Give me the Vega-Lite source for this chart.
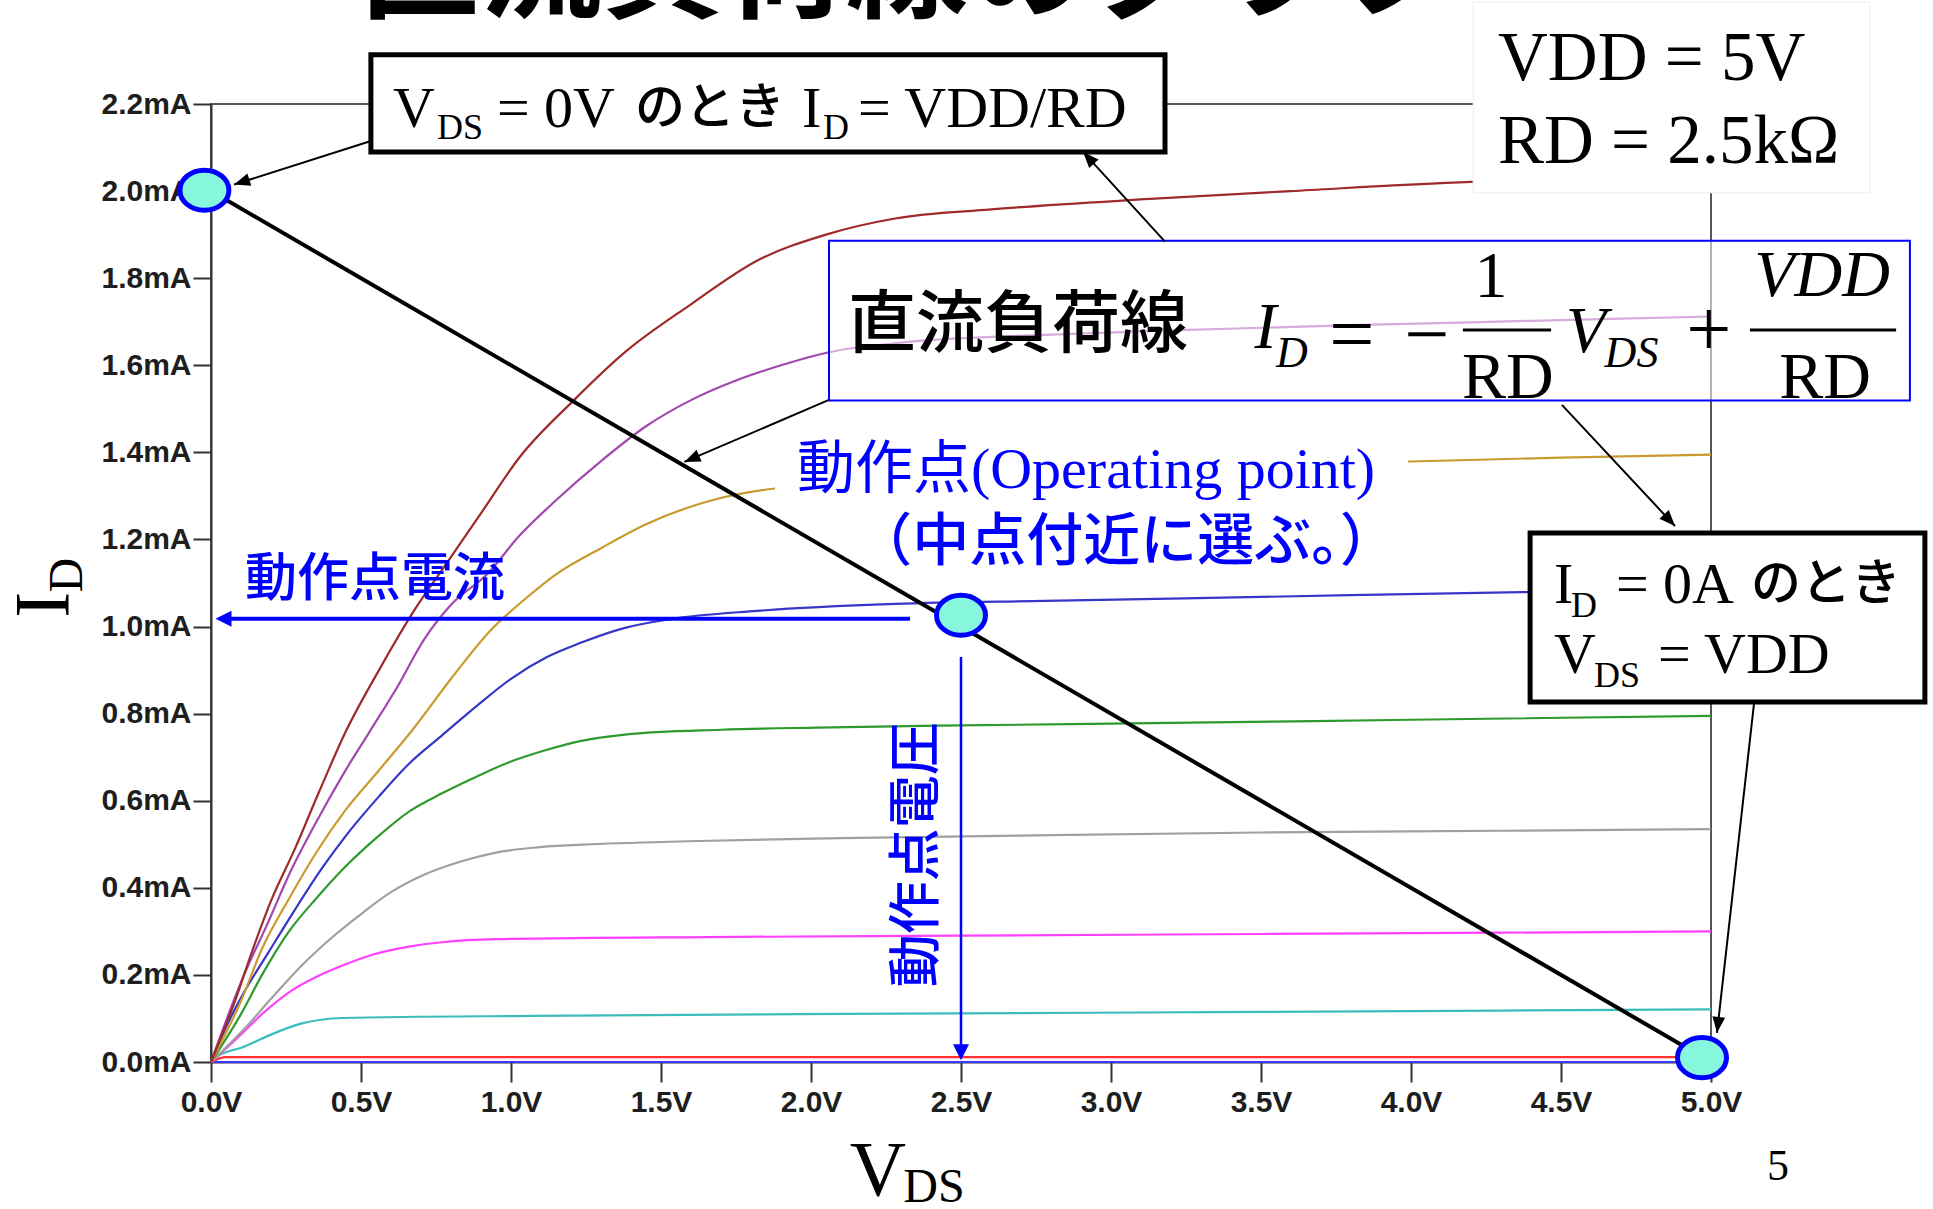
{
"$schema": "https://vega.github.io/schema/vega-lite/v6.json",
"width": 1500, "height": 958,
"autosize": {"type": "none"},
"padding": {"left": 211, "top": 104, "right": 222, "bottom": 147},
"background": "white",
"config": {"view": {"stroke": "#555555", "strokeWidth": 2}},
"encoding": {
 "x": {"field": "v", "type": "quantitative", "scale": {"domain": [0, 5], "nice": false, "zero": false},
  "axis": {"values": [0,0.5,1,1.5,2,2.5,3,3.5,4,4.5,5], "labelExpr": "format(datum.value,'.1f')+'V'", "title": null, "grid": false, "tickSize": 20, "tickWidth": 2, "tickColor": "#333333", "domainColor": "#333333", "domainWidth": 2, "labelFont": "Liberation Sans", "labelFontWeight": "bold", "labelFontSize": 30, "labelColor": "#1e1e1e", "labelPadding": 5, "labelFlush": false, "labelOverlap": false}},
 "y": {"field": "i", "type": "quantitative", "scale": {"domain": [0, 2.2], "nice": false, "zero": false},
  "axis": {"values": [0,0.2,0.4,0.6,0.8,1,1.2,1.4,1.6,1.8,2,2.2], "labelExpr": "format(datum.value,'.1f')+'mA'", "title": null, "grid": false, "tickSize": 18, "tickWidth": 2, "tickColor": "#333333", "domainColor": "#333333", "domainWidth": 2, "labelFont": "Liberation Sans", "labelFontWeight": "bold", "labelFontSize": 30, "labelColor": "#1e1e1e", "labelPadding": 2, "labelOverlap": false}}
},
"layer": [
 {"data": {"values": [
  {"s":"c0","v":0,"i":0},{"s":"c0","v":5,"i":0},
  {"s":"c1","v":0,"i":0},{"s":"c1","v":0.05,"i":0.011},{"s":"c1","v":5,"i":0.011},
  {"s":"c2","v":0,"i":0},{"s":"c2","v":0.02,"i":0.012},{"s":"c2","v":0.11,"i":0.035},{"s":"c2","v":0.19,"i":0.06},{"s":"c2","v":0.3,"i":0.088},{"s":"c2","v":0.44,"i":0.101},{"s":"c2","v":1.07,"i":0.106},{"s":"c2","v":2.28,"i":0.111},{"s":"c2","v":3.5,"i":0.115},{"s":"c2","v":4.3,"i":0.118},{"s":"c2","v":5,"i":0.121},
  {"s":"c3","v":0,"i":0},{"s":"c3","v":0.08,"i":0.05},{"s":"c3","v":0.17,"i":0.11},{"s":"c3","v":0.26,"i":0.16},{"s":"c3","v":0.35,"i":0.195},{"s":"c3","v":0.44,"i":0.222},{"s":"c3","v":0.54,"i":0.247},{"s":"c3","v":0.66,"i":0.265},{"s":"c3","v":0.77,"i":0.275},{"s":"c3","v":0.95,"i":0.282},{"s":"c3","v":1.66,"i":0.287},{"s":"c3","v":2.5,"i":0.29},{"s":"c3","v":3.5,"i":0.294},{"s":"c3","v":4.3,"i":0.297},{"s":"c3","v":5,"i":0.3},
  {"s":"c4","v":0,"i":0},{"s":"c4","v":0.11,"i":0.075},{"s":"c4","v":0.2,"i":0.145},{"s":"c4","v":0.3,"i":0.22},{"s":"c4","v":0.41,"i":0.29},{"s":"c4","v":0.51,"i":0.345},{"s":"c4","v":0.6,"i":0.39},{"s":"c4","v":0.71,"i":0.43},{"s":"c4","v":0.83,"i":0.46},{"s":"c4","v":0.95,"i":0.481},{"s":"c4","v":1.09,"i":0.493},{"s":"c4","v":1.24,"i":0.499},{"s":"c4","v":1.59,"i":0.507},{"s":"c4","v":2.1,"i":0.514},{"s":"c4","v":2.7,"i":0.52},{"s":"c4","v":3.5,"i":0.527},{"s":"c4","v":4.3,"i":0.531},{"s":"c4","v":5,"i":0.535},
  {"s":"c5","v":0,"i":0},{"s":"c5","v":0.1,"i":0.11},{"s":"c5","v":0.17,"i":0.2},{"s":"c5","v":0.26,"i":0.3},{"s":"c5","v":0.35,"i":0.375},{"s":"c5","v":0.45,"i":0.45},{"s":"c5","v":0.56,"i":0.52},{"s":"c5","v":0.66,"i":0.575},{"s":"c5","v":0.77,"i":0.617},{"s":"c5","v":0.89,"i":0.657},{"s":"c5","v":1,"i":0.69},{"s":"c5","v":1.12,"i":0.717},{"s":"c5","v":1.23,"i":0.737},{"s":"c5","v":1.38,"i":0.752},{"s":"c5","v":1.7,"i":0.763},{"s":"c5","v":2.02,"i":0.768},{"s":"c5","v":2.5,"i":0.773},{"s":"c5","v":3.13,"i":0.778},{"s":"c5","v":4,"i":0.786},{"s":"c5","v":5,"i":0.795},
  {"s":"c6","v":0,"i":0},{"s":"c6","v":0.05,"i":0.08},{"s":"c6","v":0.11,"i":0.16},{"s":"c6","v":0.19,"i":0.25},{"s":"c6","v":0.28,"i":0.35},{"s":"c6","v":0.37,"i":0.445},{"s":"c6","v":0.45,"i":0.52},{"s":"c6","v":0.56,"i":0.61},{"s":"c6","v":0.66,"i":0.685},{"s":"c6","v":0.77,"i":0.75},{"s":"c6","v":0.89,"i":0.82},{"s":"c6","v":1,"i":0.88},{"s":"c6","v":1.12,"i":0.93},{"s":"c6","v":1.23,"i":0.962},{"s":"c6","v":1.38,"i":0.997},{"s":"c6","v":1.53,"i":1.017},{"s":"c6","v":1.82,"i":1.036},{"s":"c6","v":2.28,"i":1.052},{"s":"c6","v":2.78,"i":1.059},{"s":"c6","v":3.5,"i":1.068},{"s":"c6","v":4.37,"i":1.079},{"s":"c6","v":5,"i":1.084},
  {"s":"c7","v":0,"i":0},{"s":"c7","v":0.1,"i":0.14},{"s":"c7","v":0.17,"i":0.26},{"s":"c7","v":0.26,"i":0.375},{"s":"c7","v":0.35,"i":0.48},{"s":"c7","v":0.45,"i":0.58},{"s":"c7","v":0.56,"i":0.67},{"s":"c7","v":0.68,"i":0.77},{"s":"c7","v":0.8,"i":0.88},{"s":"c7","v":0.93,"i":0.99},{"s":"c7","v":1.05,"i":1.065},{"s":"c7","v":1.15,"i":1.12},{"s":"c7","v":1.3,"i":1.18},{"s":"c7","v":1.45,"i":1.235},{"s":"c7","v":1.67,"i":1.29},{"s":"c7","v":1.88,"i":1.317},{"s":"c7","v":2.3,"i":1.335},{"s":"c7","v":3,"i":1.354},{"s":"c7","v":3.5,"i":1.367},{"s":"c7","v":4,"i":1.379},{"s":"c7","v":4.5,"i":1.388},{"s":"c7","v":5,"i":1.395},
  {"s":"c8","v":0,"i":0},{"s":"c8","v":0.11,"i":0.2},{"s":"c8","v":0.19,"i":0.32},{"s":"c8","v":0.26,"i":0.43},{"s":"c8","v":0.35,"i":0.55},{"s":"c8","v":0.44,"i":0.66},{"s":"c8","v":0.53,"i":0.76},{"s":"c8","v":0.62,"i":0.86},{"s":"c8","v":0.71,"i":0.97},{"s":"c8","v":0.8,"i":1.05},{"s":"c8","v":0.92,"i":1.12},{"s":"c8","v":1.03,"i":1.21},{"s":"c8","v":1.15,"i":1.29},{"s":"c8","v":1.3,"i":1.38},{"s":"c8","v":1.45,"i":1.46},{"s":"c8","v":1.6,"i":1.52},{"s":"c8","v":1.75,"i":1.565},{"s":"c8","v":1.9,"i":1.6},{"s":"c8","v":2.06,"i":1.63},{"s":"c8","v":2.3,"i":1.652},{"s":"c8","v":2.78,"i":1.67},{"s":"c8","v":3.2,"i":1.68},{"s":"c8","v":3.8,"i":1.692},{"s":"c8","v":4.4,"i":1.702},{"s":"c8","v":5,"i":1.712},
  {"s":"c9","v":0,"i":0},{"s":"c9","v":0.08,"i":0.14},{"s":"c9","v":0.14,"i":0.26},{"s":"c9","v":0.2,"i":0.37},{"s":"c9","v":0.28,"i":0.49},{"s":"c9","v":0.36,"i":0.62},{"s":"c9","v":0.45,"i":0.76},{"s":"c9","v":0.56,"i":0.9},{"s":"c9","v":0.68,"i":1.04},{"s":"c9","v":0.78,"i":1.14},{"s":"c9","v":0.89,"i":1.25},{"s":"c9","v":1.03,"i":1.39},{"s":"c9","v":1.21,"i":1.52},{"s":"c9","v":1.38,"i":1.63},{"s":"c9","v":1.6,"i":1.74},{"s":"c9","v":1.82,"i":1.84},{"s":"c9","v":2.05,"i":1.9},{"s":"c9","v":2.28,"i":1.937},{"s":"c9","v":2.6,"i":1.958},{"s":"c9","v":3.13,"i":1.982},{"s":"c9","v":3.6,"i":2.0},{"s":"c9","v":4.2,"i":2.021},{"s":"c9","v":4.6,"i":2.028},{"s":"c9","v":5,"i":2.035}
 ]},
 "mark": {"type": "line", "strokeWidth": 2.2, "interpolate": "monotone"},
 "encoding": {"color": {"field": "s", "type": "nominal", "legend": null,
   "scale": {"domain": ["c0","c1","c2","c3","c4","c5","c6","c7","c8","c9"], "range": ["#3a3aff","#ff3030","#3cbcbc","#ff40ff","#a0a0a0","#2e9a2e","#3636c8","#c99a2e","#a347b0","#9e2a2a"]}}}},
 {"data": {"values": [{"v": 1.88, "v2": 3.99, "i": 1.13, "i2": 1.5}]},
  "mark": {"type": "rect", "fill": "white"},
  "encoding": {"x2": {"field": "v2"}, "y2": {"field": "i2"}}},
 {"data": {"values": [{"v": 0, "i": 2, "v2": 5, "i2": 0}]},
  "mark": {"type": "rule", "color": "black", "strokeWidth": 4},
  "encoding": {"x2": {"field": "v2"}, "y2": {"field": "i2"}}},
 {"data": {"values": [{"v": 2.06, "v2": 5.663, "i": 1.519, "i2": 1.886}]},
  "mark": {"type": "rect", "fill": "white", "fillOpacity": 0.55, "stroke": "#0000ff", "strokeWidth": 2},
  "encoding": {"x2": {"field": "v2"}, "y2": {"field": "i2"}}},
 {"data": {"values": [{"v": 0.533, "v2": 3.18, "i": 2.09, "i2": 2.313}, {"v": 4.397, "v2": 5.713, "i": 0.827, "i2": 1.215}]},
  "mark": {"type": "rect", "fill": "white", "stroke": "black", "strokeWidth": 5},
  "encoding": {"x2": {"field": "v2"}, "y2": {"field": "i2"}}},
 {"data": {"values": [{"v": 4.207, "v2": 5.53, "i": 1.996, "i2": 2.434}]},
  "mark": {"type": "rect", "fill": "white", "stroke": "#eeeeee", "strokeWidth": 1},
  "encoding": {"x2": {"field": "v2"}, "y2": {"field": "i2"}}},
 {"data": {"values": [{"v": -0.022, "i": 2.002}, {"v": 2.5, "i": 1.026}, {"v": 4.97, "i": 0.01}]},
  "mark": {"type": "point", "shape": "M -1 0 A 1 0.82 0 1 1 1 0 A 1 0.82 0 1 1 -1 0 Z", "size": 2401, "filled": false, "fill": "#86f7dc", "fillOpacity": 1, "stroke": "#0000ff", "strokeWidth": 5, "opacity": 1}},
 {"data": {"values": [
   {"v": 0.533, "i": 2.115, "v2": 0.077, "i2": 2.015},
   {"v": 3.18, "i": 1.884, "v2": 2.907, "i2": 2.09},
   {"v": 2.058, "i": 1.52, "v2": 1.578, "i2": 1.378},
   {"v": 4.503, "i": 1.509, "v2": 4.88, "i2": 1.231},
   {"v": 5.144, "i": 0.827, "v2": 5.02, "i2": 0.067}]},
  "layer": [
   {"mark": {"type": "rule", "color": "black", "strokeWidth": 2},
    "encoding": {"x2": {"field": "v2"}, "y2": {"field": "i2"}}},
   {"transform": [{"calculate": "atan2((datum.v2-datum.v)*300,(datum.i2-datum.i)*435.45)*180/PI", "as": "ang"}],
    "mark": {"type": "point", "shape": "M 0 0 L 0.4 1 L -0.4 1 Z", "size": 1024, "filled": true, "color": "black", "opacity": 1},
    "encoding": {"x": {"field": "v2", "type": "quantitative", "scale": {"domain": [0, 5], "nice": false, "zero": false}},
     "y": {"field": "i2", "type": "quantitative", "scale": {"domain": [0, 2.2], "nice": false, "zero": false}},
     "angle": {"field": "ang", "type": "quantitative", "scale": null}}}
  ]},
 {"data": {"values": [{"v": 2.33, "i": 1.018, "v2": 0.03, "i2": 1.018}]},
  "mark": {"type": "rule", "color": "#0000ff", "strokeWidth": 4},
  "encoding": {"x2": {"field": "v2"}, "y2": {"field": "i2"}}},
 {"data": {"values": [{"v": 2.5, "i": 0.93, "v2": 2.5, "i2": 0.03}]},
  "mark": {"type": "rule", "color": "#0000ff", "strokeWidth": 2.5},
  "encoding": {"x2": {"field": "v2"}, "y2": {"field": "i2"}}},
 {"data": {"values": [{"v": 2.33, "i": 1.018, "v2": 0.015, "i2": 1.018}, {"v": 2.5, "i": 0.93, "v2": 2.5, "i2": 0.004}]},
  "transform": [{"calculate": "atan2((datum.v2-datum.v)*300,(datum.i2-datum.i)*435.45)*180/PI", "as": "ang"}],
  "mark": {"type": "point", "shape": "M 0 0 L 0.5 1 L -0.5 1 Z", "size": 1024, "filled": true, "color": "#0000ff", "opacity": 1},
  "encoding": {"x": {"field": "v2", "type": "quantitative", "scale": {"domain": [0, 5], "nice": false, "zero": false}},
   "y": {"field": "i2", "type": "quantitative", "scale": {"domain": [0, 2.2], "nice": false, "zero": false}},
   "angle": {"field": "ang", "type": "quantitative", "scale": null}}},
 {"data": {"values": [{"v": 4.173, "v2": 4.467, "i": 1.681}, {"v": 5.13, "v2": 5.617, "i": 1.681}]},
  "mark": {"type": "rule", "color": "black", "strokeWidth": 3},
  "encoding": {"x2": {"field": "v2"}}},
 {"data": {"values": [
   {"t": "V", "v": 0.607, "i": 2.147}, {"t": "= 0V", "v": 0.953, "i": 2.147}, {"t": "I", "v": 1.97, "i": 2.147}, {"t": "= VDD/RD", "v": 2.157, "i": 2.147},
   {"t": "I", "v": 4.477, "i": 1.054}, {"t": "= 0A", "v": 4.683, "i": 1.054}, {"t": "V", "v": 4.477, "i": 0.893}, {"t": "= VDD", "v": 4.823, "i": 0.893}]},
  "mark": {"type": "text", "font": "Liberation Serif", "fontSize": 58, "align": "left", "baseline": "alphabetic", "color": "black"},
  "encoding": {"text": {"field": "t"}}},
 {"data": {"values": [
   {"t": "DS", "v": 0.753, "i": 2.12}, {"t": "D", "v": 2.04, "i": 2.12}, {"t": "D", "v": 4.533, "i": 1.022}, {"t": "DS", "v": 4.61, "i": 0.861}]},
  "mark": {"type": "text", "font": "Liberation Serif", "fontSize": 36, "align": "left", "baseline": "alphabetic", "color": "black"},
  "encoding": {"text": {"field": "t"}}},
 {"data": {"values": [{"t": "のとき", "v": 1.413, "i": 2.154}, {"t": "のとき", "v": 5.133, "i": 1.061}]},
  "mark": {"type": "text", "font": "Noto Sans CJK JP", "fontSize": 50, "fontWeight": 500, "align": "left", "baseline": "alphabetic", "color": "black"},
  "encoding": {"text": {"field": "t"}}},
 {"data": {"values": [{"t": "VDD = 5V", "v": 4.29, "i": 2.255}, {"t": "RD = 2.5kΩ", "v": 4.29, "i": 2.065}]},
  "mark": {"type": "text", "font": "Liberation Serif", "fontSize": 69, "align": "left", "baseline": "alphabetic", "color": "black"},
  "encoding": {"text": {"field": "t"}}},
 {"data": {"values": [{"t": "直流負荷線", "v": 2.123, "i": 1.688}]},
  "mark": {"type": "text", "font": "Noto Sans CJK JP", "fontSize": 68, "fontWeight": 500, "align": "left", "baseline": "middle", "color": "black"},
  "encoding": {"text": {"field": "t"}}},
 {"data": {"values": [{"t": "I", "v": 3.515, "i": 1.686}, {"t": "V", "v": 4.583, "i": 1.676}, {"t": "VDD", "v": 5.37, "i": 1.805}]},
  "mark": {"type": "text", "font": "Liberation Serif", "fontStyle": "italic", "fontSize": 66, "align": "center", "baseline": "middle", "color": "black"},
  "encoding": {"text": {"field": "t"}}},
 {"data": {"values": [{"t": "D", "v": 3.603, "i": 1.626}, {"t": "DS", "v": 4.735, "i": 1.626}]},
  "mark": {"type": "text", "font": "Liberation Serif", "fontStyle": "italic", "fontSize": 44, "align": "center", "baseline": "middle", "color": "black"},
  "encoding": {"text": {"field": "t"}}},
 {"data": {"values": [{"t": "=", "v": 3.803, "i": 1.665}, {"t": "−", "v": 4.053, "i": 1.665}, {"t": "+", "v": 4.993, "i": 1.676}]},
  "mark": {"type": "text", "font": "Liberation Serif", "fontSize": 80, "align": "center", "baseline": "middle", "color": "black"},
  "encoding": {"text": {"field": "t"}}},
 {"data": {"values": [{"t": "1", "v": 4.267, "i": 1.803}, {"t": "RD", "v": 4.323, "i": 1.571}, {"t": "RD", "v": 5.38, "i": 1.571}]},
  "mark": {"type": "text", "font": "Liberation Serif", "fontSize": 66, "align": "center", "baseline": "middle", "color": "black"},
  "encoding": {"text": {"field": "t"}}},
 {"data": {"values": [{"t": "動作点電流", "v": 0.113, "i": 1.107}]},
  "mark": {"type": "text", "font": "Noto Sans CJK JP", "fontSize": 52, "fontWeight": 500, "align": "left", "baseline": "middle", "color": "#0000ff"},
  "encoding": {"text": {"field": "t"}}},
 {"data": {"values": [{"t": "動作点(Operating point)", "v": 1.953, "i": 1.318}]},
  "mark": {"type": "text", "font": "Liberation Serif, Noto Sans CJK JP", "fontSize": 58, "align": "left", "baseline": "alphabetic", "color": "#0000ff"},
  "encoding": {"text": {"field": "t"}}},
 {"data": {"values": [{"t": "（中点付近に選ぶ。）", "v": 3.05, "i": 1.192}]},
  "mark": {"type": "text", "font": "Noto Sans CJK JP", "fontSize": 57, "fontWeight": 500, "align": "center", "baseline": "middle", "color": "#0000ff"},
  "encoding": {"text": {"field": "t"}}},
 {"data": {"values": [{"t": "動作点電圧", "v": 2.357, "i": 0.476}]},
  "mark": {"type": "text", "font": "Noto Sans CJK JP", "fontSize": 53, "fontWeight": 500, "align": "center", "baseline": "middle", "angle": 270, "color": "#0000ff"},
  "encoding": {"text": {"field": "t"}}},
 {"data": {"values": [{"t": "直流負荷線のグラフ", "v": 2.32, "i": 2.42}]},
  "mark": {"type": "text", "font": "Noto Sans CJK JP", "fontWeight": "bold", "fontSize": 122, "align": "center", "baseline": "alphabetic", "color": "black"},
  "encoding": {"text": {"field": "t"}}},
 {"data": {"values": [{"t": "I", "v": -0.553, "i": 1.05}]},
  "mark": {"type": "text", "font": "Liberation Serif", "fontSize": 78, "align": "center", "baseline": "middle", "angle": 270, "color": "black"},
  "encoding": {"text": {"field": "t"}}},
 {"data": {"values": [{"t": "D", "v": -0.477, "i": 1.118}]},
  "mark": {"type": "text", "font": "Liberation Serif", "fontSize": 48, "align": "center", "baseline": "middle", "angle": 270, "color": "black"},
  "encoding": {"text": {"field": "t"}}},
 {"data": {"values": [{"t": "V", "v": 2.223, "i": -0.252}]},
  "mark": {"type": "text", "font": "Liberation Serif", "fontSize": 78, "align": "center", "baseline": "middle", "color": "black"},
  "encoding": {"text": {"field": "t"}}},
 {"data": {"values": [{"t": "DS", "v": 2.41, "i": -0.29}]},
  "mark": {"type": "text", "font": "Liberation Serif", "fontSize": 48, "align": "center", "baseline": "middle", "color": "black"},
  "encoding": {"text": {"field": "t"}}},
 {"data": {"values": [{"t": "5", "v": 5.223, "i": -0.241}]},
  "mark": {"type": "text", "font": "Liberation Serif", "fontSize": 44, "align": "center", "baseline": "middle", "color": "black"},
  "encoding": {"text": {"field": "t"}}}
]
}
